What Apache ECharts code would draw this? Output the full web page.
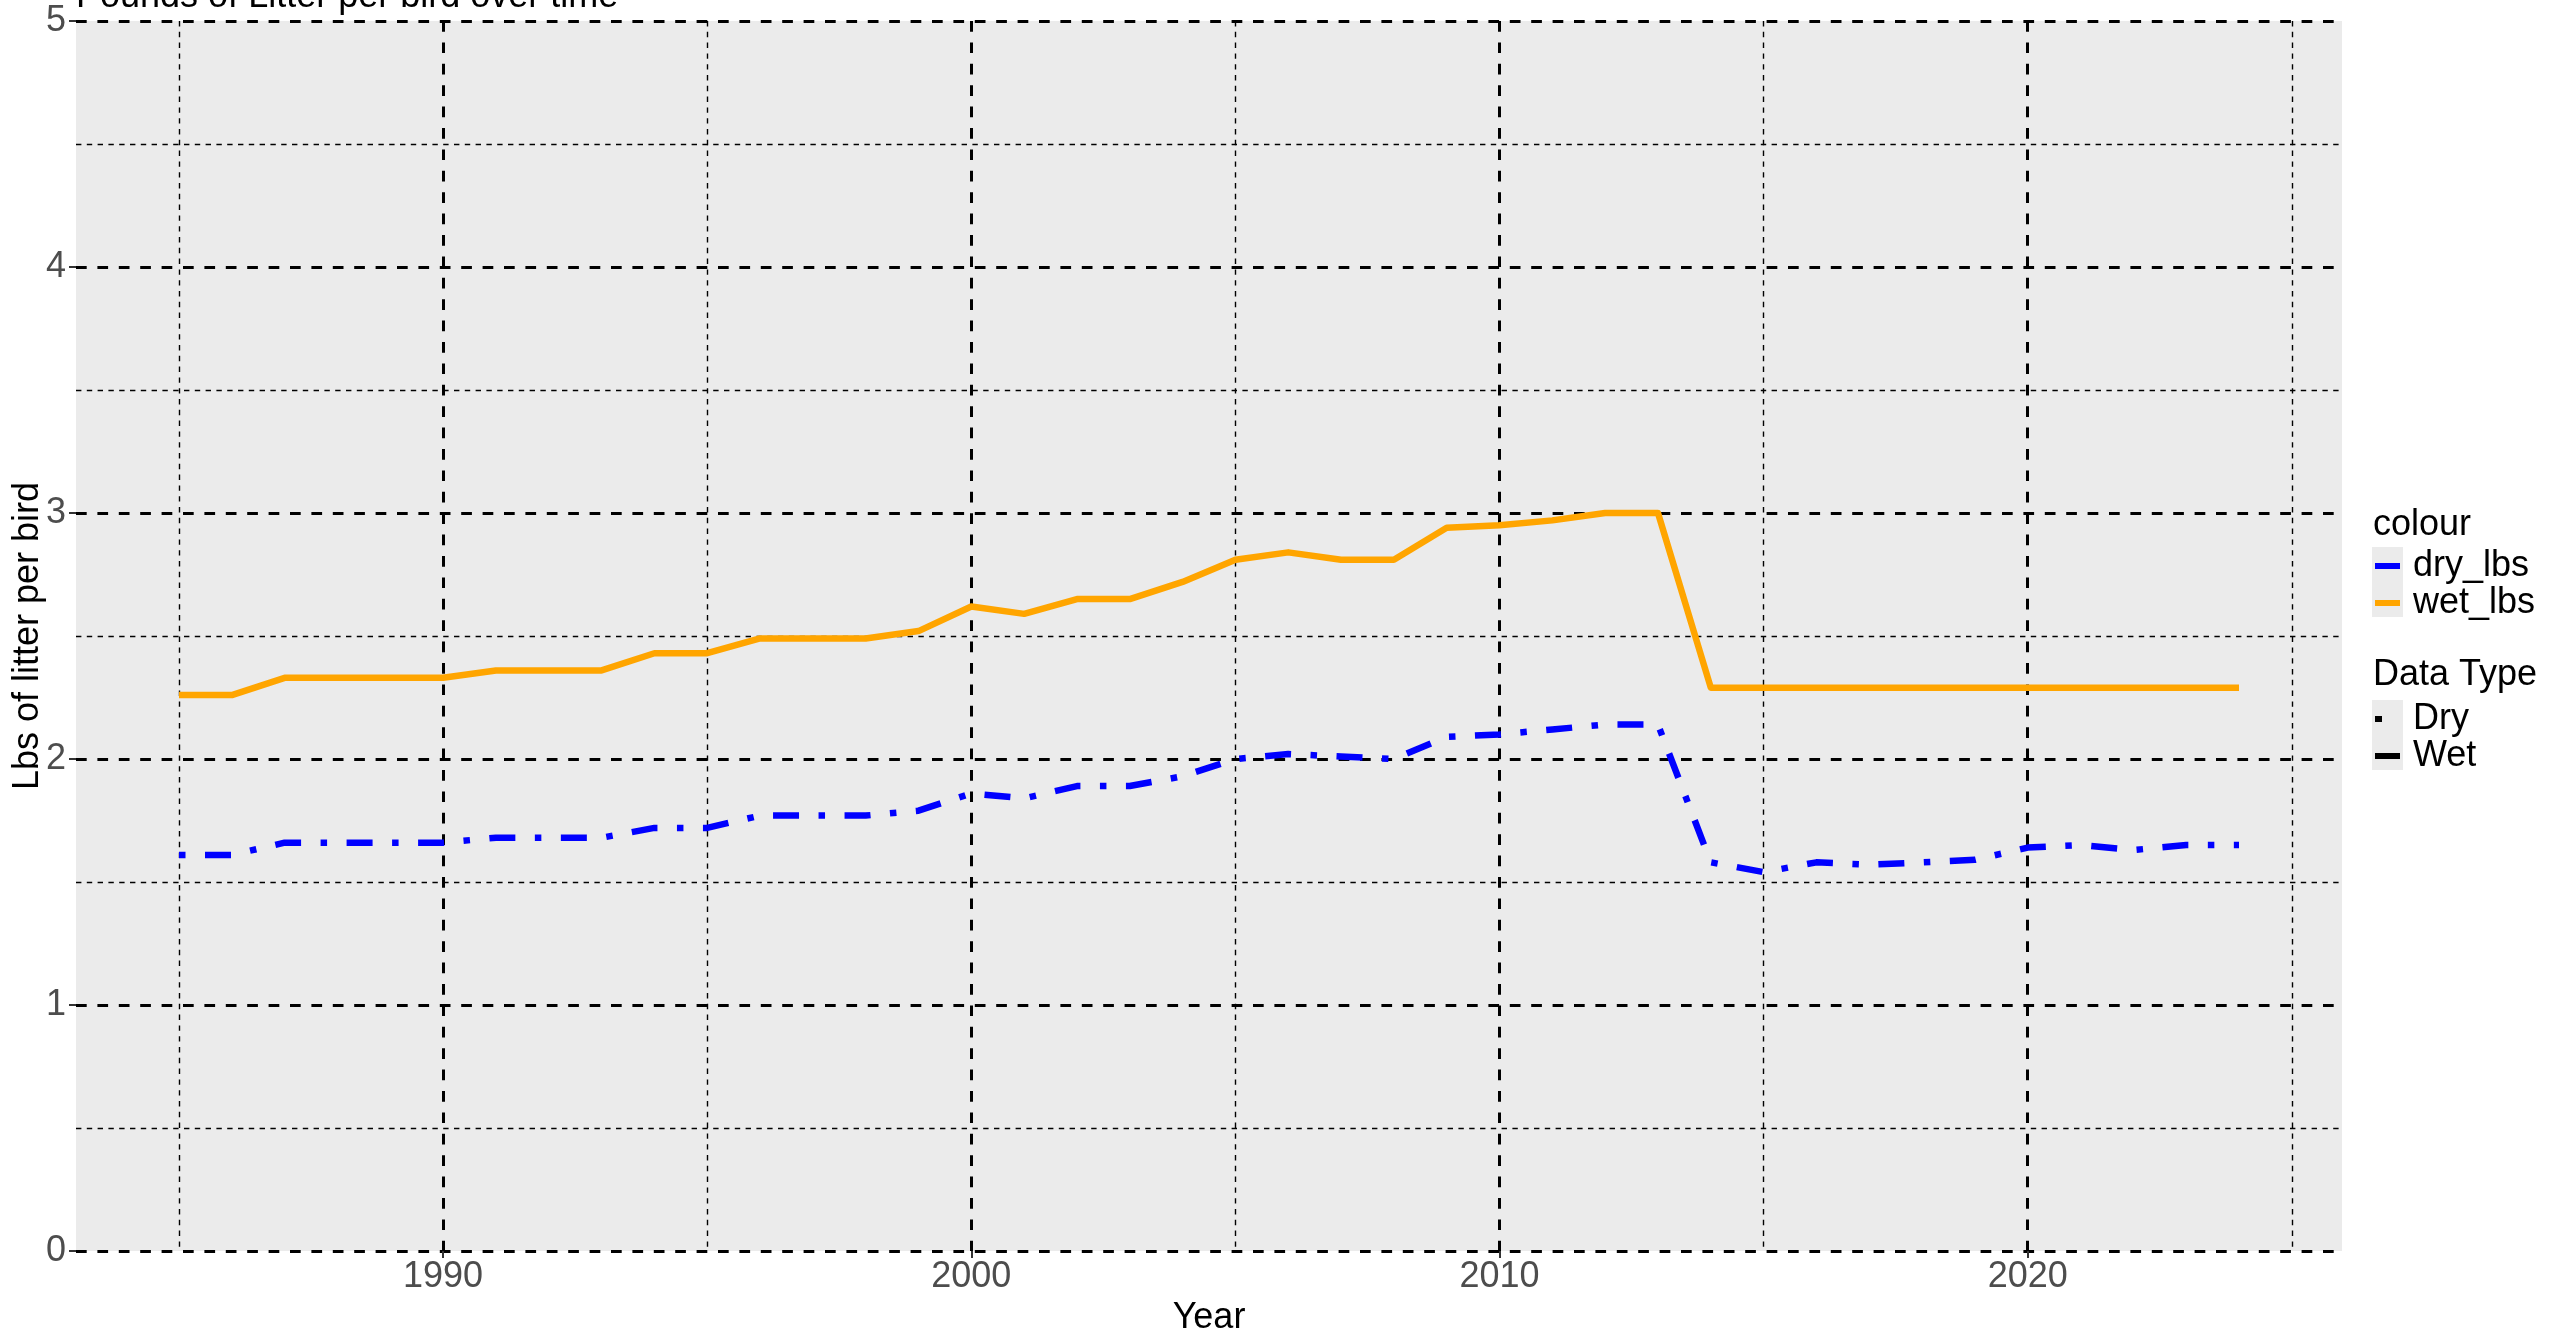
<!DOCTYPE html>
<html>

<head>
    <meta charset="utf-8">
    <title>Pounds of Litter per bird over time</title>
    <script src="https://cdn.jsdelivr.net/npm/echarts@6.0.0/dist/echarts.min.js"></script>
    <style>
        body { margin: 0; background: #fff; }
        #line { width: 2554px; height: 1335px; }
    </style>
</head>

<body>
    <div id="line"></div>
</body>

<script type='text/javascript'>

    // 数据
    var years = [1985, 1986, 1987, 1988, 1989, 1990, 1991, 1992, 1993, 1994,
        1995, 1996, 1997, 1998, 1999, 2000, 2001, 2002, 2003, 2004,
        2005, 2006, 2007, 2008, 2009, 2010, 2011, 2012, 2013, 2014,
        2015, 2016, 2017, 2018, 2019, 2020, 2021, 2022, 2023, 2024];

    var dry_lbs = [1.61, 1.61, 1.66, 1.66, 1.66, 1.66, 1.68, 1.68, 1.68, 1.72,
        1.72, 1.77, 1.77, 1.77, 1.79, 1.86, 1.84, 1.89, 1.89, 1.93,
        2.00, 2.02, 2.01, 2.00, 2.09, 2.10, 2.12, 2.14, 2.14, 1.58,
        1.54, 1.58, 1.57, 1.58, 1.59, 1.64, 1.65, 1.63, 1.65, 1.65];

    var wet_lbs = [2.26, 2.26, 2.33, 2.33, 2.33, 2.33, 2.36, 2.36, 2.36, 2.43,
        2.43, 2.49, 2.49, 2.49, 2.52, 2.62, 2.59, 2.65, 2.65, 2.72,
        2.81, 2.84, 2.81, 2.81, 2.94, 2.95, 2.97, 3.00, 3.00, 2.29,
        2.29, 2.29, 2.29, 2.29, 2.29, 2.29, 2.29, 2.29, 2.29, 2.29];

    var x_major = [1990, 2000, 2010, 2020];
    var x_minor = [1985, 1995, 2005, 2015, 2025];

    function pairs(xs, ys) {
        return xs.map(function (x, i) { return [x, ys[i]]; });
    }

    var FONT = 'Liberation Sans';
    var keyIcon = 'path://M0,0H25V6H0Z M33,0L33,6';
    var dotIcon = 'path://M0,0H7V6H0Z M33,0L33,6';

    var majorLine = { color: '#000', width: 3, type: [10.7, 10.7] };
    var minorLine = { color: '#000', width: 1.4, type: [5.4, 5.4] };

    var optionLine = {
        animation: false,
        textStyle: { fontFamily: FONT },
        title: {
            text: 'Pounds of Litter per bird over time',
            left: 76,
            top: -21,
            padding: 0,
            textStyle: { fontFamily: FONT, fontSize: 36, fontWeight: 'normal', color: '#000' }
        },
        grid: {
            left: 76, right: 212, top: 21, bottom: 84,
            outerBoundsMode: 'none',
            containLabel: false,
            show: true, backgroundColor: '#EBEBEB', borderWidth: 0
        },
        xAxis: [{
            type: 'value',
            min: 1983.05,
            max: 2025.95,
            name: 'Year',
            nameLocation: 'middle',
            nameGap: 42,
            nameTextStyle: { fontFamily: FONT, fontSize: 36, color: '#000' },
            axisLine: { show: false },
            axisTick: { show: true, customValues: x_major, length: 7, lineStyle: { color: '#333', width: 2 } },
            axisLabel: {
                customValues: x_major, margin: 8, fontSize: 36, color: '#4D4D4D',
                formatter: function (v) { return String(v); }
            },
            splitLine: { show: true, lineStyle: majorLine }
        }, {
            // 次网格线
            type: 'value',
            min: 1983.05,
            max: 2025.95,
            position: 'bottom',
            axisLine: { show: false },
            axisTick: { show: false, customValues: x_minor },
            axisLabel: { show: false },
            splitLine: { show: true, lineStyle: minorLine }
        }],
        yAxis: {
            type: 'value',
            min: 0,
            max: 5,
            interval: 1,
            name: 'Lbs of litter per bird',
            nameLocation: 'middle',
            nameGap: 30,
            nameMoveOverlap: false,
            nameTextStyle: { fontFamily: FONT, fontSize: 36, color: '#000' },
            axisLine: { show: false },
            axisTick: { show: true, length: 7, lineStyle: { color: '#333', width: 2 } },
            axisLabel: { margin: 10, fontSize: 36, color: '#4D4D4D' },
            splitLine: { show: true, lineStyle: majorLine },
            minorTick: { show: false, splitNumber: 2 },
            minorSplitLine: { show: true, lineStyle: minorLine }
        },
        legend: [{
            data: [{ name: 'dry_lbs', icon: keyIcon }, { name: 'wet_lbs', icon: keyIcon }],
            orient: 'vertical',
            left: 2375,
            top: 548,
            padding: 0,
            itemGap: 1,
            itemWidth: 33,
            itemHeight: 6,
            selectedMode: false,
            itemStyle: { borderWidth: 0 },
            textStyle: { fontFamily: FONT, fontSize: 36, color: '#000', lineHeight: 34 }
        }, {
            data: [{ name: 'Dry', icon: dotIcon }, { name: 'Wet', icon: keyIcon }],
            orient: 'vertical',
            left: 2375,
            top: 701,
            padding: 0,
            itemGap: 1,
            itemWidth: 33,
            itemHeight: 6,
            selectedMode: false,
            itemStyle: { borderWidth: 0 },
            textStyle: { fontFamily: FONT, fontSize: 36, color: '#000', lineHeight: 34 }
        }],
        graphic: [
            { type: 'rect', shape: { x: 2372, y: 547, width: 31, height: 70 }, style: { fill: '#EBEBEB' }, z: 0 },
            { type: 'rect', shape: { x: 2372, y: 700, width: 31, height: 70 }, style: { fill: '#EBEBEB' }, z: 0 },
            { type: 'text', x: 2373, y: 525, style: { text: 'colour', fill: '#000', font: '36px "Liberation Sans"', verticalAlign: 'middle' } },
            { type: 'text', x: 2373, y: 675, style: { text: 'Data Type', fill: '#000', font: '36px "Liberation Sans"', verticalAlign: 'middle' } }
        ],
        series: [{
            name: 'dry_lbs',
            type: 'line',
            data: pairs(years, dry_lbs),
            showSymbol: false,
            symbol: 'none',
            color: '#0000FF',
            lineStyle: { width: 6.5, color: '#0000FF', type: [6.5, 19.5, 26, 19.5], cap: 'butt', join: 'round' }
        }, {
            name: 'wet_lbs',
            type: 'line',
            data: pairs(years, wet_lbs),
            showSymbol: false,
            symbol: 'none',
            color: '#FFA500',
            lineStyle: { width: 6.5, color: '#FFA500', type: 'solid', cap: 'butt', join: 'round' }
        }, {
            // 仅用于图例 (Data Type)
            name: 'Dry', type: 'line', data: [], color: '#000', symbol: 'none'
        }, {
            name: 'Wet', type: 'line', data: [], color: '#000', symbol: 'none'
        }]
    };

    var chartLine = echarts.init(document.getElementById('line'));
    chartLine.setOption(optionLine, true);
</script>

</html>
